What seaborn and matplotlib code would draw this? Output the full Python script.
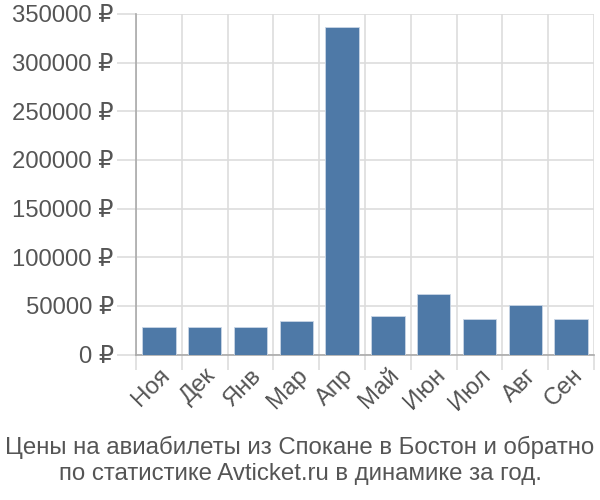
import matplotlib
matplotlib.use("Agg")
import matplotlib.pyplot as plt
import seaborn as sns
import pandas as pd
from matplotlib.ticker import FixedLocator, FuncFormatter

months = ["Ноя", "Дек", "Янв", "Мар", "Апр", "Май", "Июн", "Июл", "Авг", "Сен"]
prices = [28700, 28700, 28700, 34800, 336900, 40000, 62000, 36300, 50700, 36300]
yticks = [0, 50000, 100000, 150000, 200000, 250000, 300000, 350000]
caption = "Цены на авиабилеты из Спокане в Бостон и обратно\nпо статистике Avticket.ru в динамике за год."

sns.set_theme(style="white")
plt.rcParams['font.family'] = ['Liberation Sans', 'DejaVu Sans']

df = pd.DataFrame({"month": months, "price": prices})

fig = plt.figure(figsize=(6, 5), dpi=100)
ax = fig.add_axes([0.2267, 0.291, 0.7633, 0.681])

sns.barplot(data=df, x="month", y="price", color="#4e79a7", width=0.73,
            edgecolor="#c9d6e6", linewidth=0.6, ax=ax, zorder=3, saturation=1)

ax.set_xlim(-0.5, len(months) - 0.5)
ax.set_ylim(0, 350000)
ax.set_yticks(yticks)
ax.yaxis.set_major_formatter(FuncFormatter(lambda v, p: f"{int(v)} ₽"))
ax.xaxis.set_minor_locator(FixedLocator([i - 0.5 for i in range(len(months) + 1)]))
ax.grid(True, axis="y", which="major", color="#dddddd", linewidth=1.2, zorder=0)
ax.grid(True, axis="x", which="minor", color="#dddddd", linewidth=1.2, zorder=0)
ax.grid(False, axis="x", which="major")

ax.tick_params(axis="y", which="major", length=14, width=1.2, color="#dddddd",
               labelsize=17.2, labelcolor="#555555", pad=2, left=True)
ax.tick_params(axis="x", which="major", length=0, labelsize=17.2, labelcolor="#555555", pad=7)
ax.tick_params(axis="x", which="minor", length=11, width=1.2, color="#dddddd", bottom=True)

for lbl in ax.get_xticklabels():
    lbl.set_rotation(45)
    lbl.set_ha("right")
    lbl.set_rotation_mode("anchor")

for side in ["top", "right"]:
    ax.spines[side].set_visible(False)
ax.spines["left"].set_color("#aaaaaa")
ax.spines["left"].set_linewidth(1.2)
ax.spines["left"].set_bounds(0, 350000)
ax.spines["bottom"].set_color("#aaaaaa")
ax.spines["bottom"].set_linewidth(1.2)
ax.set_xlabel("")
ax.set_ylabel("")

fig.text(0.5, 0.079, caption, ha="center", va="center", fontsize=17.3,
         color="#555555", linespacing=1.2)

fig.savefig("out.png", dpi=100)
